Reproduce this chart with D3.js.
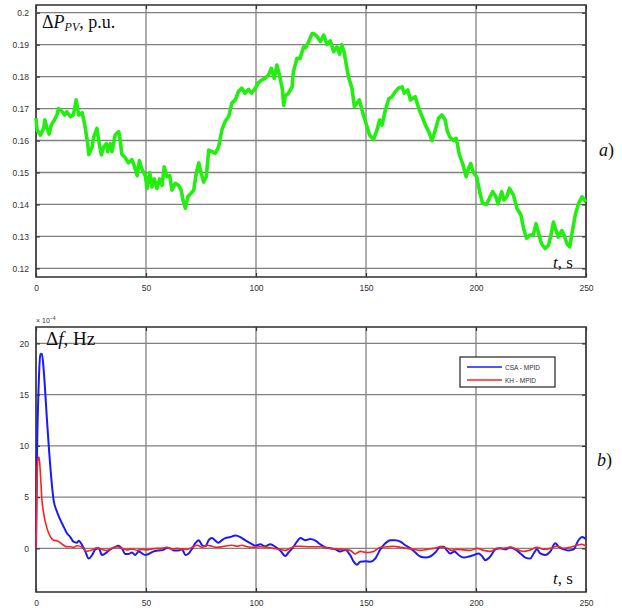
<!DOCTYPE html>
<html>
<head>
<meta charset="utf-8">
<script src="https://cdn.jsdelivr.net/npm/d3@7"></script>
<style>
  body { margin: 0; background: #fff; }
  svg { display: block; }
  .tick text { font-family: "Liberation Sans", Arial, sans-serif; font-size: 8.5px; fill: #333; }
  .lbl { font-family: "Liberation Serif", "Times New Roman", serif; fill: #111; }
</style>
</head>
<body>
<div id="chart"></div>
<script>
// (a) PV power deviation, p.u.
const pvTime = [0, 0.5, 2, 3.5, 4, 5, 6, 7, 8, 9.5, 10.3, 12, 13, 14, 15.6, 17, 18.3, 19.4, 21, 22.4, 23.5, 24,
  25.5, 26.2, 27.7, 28.5, 29.7, 30.8, 32, 32.6, 33.8, 34.5, 36, 37.6, 38.3, 39, 40.6, 42, 43.6, 44.7, 46, 47, 48,
  49.7, 50.5, 51.7, 52.7, 53.8, 55, 56.2, 57.3, 58.3, 59.5, 60.8, 61.8, 63.3, 64.8, 66, 66.8, 67.9, 69, 70.5,
  71.7, 72.9, 74, 75, 76.2, 77.4, 78.5, 80, 81.5, 83, 84.5, 86, 87.6, 89, 90.6, 92, 93.6, 95, 96.6, 98, 99.7,
  101, 102.7, 104, 105.7, 107, 108.3, 109.5, 110.8, 112, 112.6, 113.3, 114.8, 116.4, 117, 118.6, 120, 121.7,
  122.5, 124, 125.5, 126.3, 127.8, 129.3, 130.8, 132.3, 133.8, 135.3, 136.8, 138, 139, 140, 142, 143.6, 144.7,
  145.9, 147, 148.6, 150, 151.6, 153.4, 155, 156.2, 157.3, 158.8, 160.3, 161.8, 163.3, 164.8, 166.4, 167.4,
  169, 170.2, 172.4, 174, 175.5, 177, 178.5, 180, 181.5, 183, 184.5, 186, 187, 188.2, 189.7, 191, 192.4, 193.9,
  195.5, 196.5, 197.6, 198.8, 200.3, 201.8, 203, 204.8, 206.4, 207.6, 209, 210, 211.7, 212.7, 214, 215.2, 217,
  218.6, 220.4, 221.8, 223, 224.5, 226, 227.3, 228.3, 229.8, 231.4, 232.9, 233.9, 235.2, 236.4, 237.4, 239,
  240, 241.4, 242.6, 243.6, 245.2, 246.7, 248.2, 250];
const pvValue = [0.167, 0.1633, 0.1617, 0.1638, 0.1665, 0.164, 0.162, 0.165, 0.166, 0.168, 0.170, 0.169, 0.168,
  0.169, 0.1675, 0.168, 0.1727, 0.168, 0.1687, 0.164, 0.159, 0.1556, 0.158, 0.161, 0.1638, 0.160, 0.1555, 0.158,
  0.159, 0.1565, 0.159, 0.1565, 0.1617, 0.1628, 0.160, 0.1557, 0.1546, 0.153, 0.154, 0.152, 0.149, 0.1537,
  0.1513, 0.149, 0.145, 0.150, 0.1455, 0.148, 0.145, 0.148, 0.146, 0.1518, 0.1487, 0.149, 0.1445, 0.1466,
  0.146, 0.1445, 0.1414, 0.1388, 0.1424, 0.1435, 0.1445, 0.150, 0.153, 0.150, 0.147, 0.1487, 0.157, 0.1565,
  0.156, 0.158, 0.1633, 0.166, 0.1675, 0.1717, 0.1727, 0.1753, 0.1764, 0.1748, 0.176, 0.1748, 0.1764, 0.178,
  0.179, 0.1794, 0.1805, 0.1826, 0.1794, 0.1836, 0.180, 0.176, 0.171, 0.174, 0.1748, 0.1768, 0.1815, 0.1857,
  0.1857, 0.1893, 0.189, 0.191, 0.1935, 0.1935, 0.1925, 0.191, 0.193, 0.190, 0.1912, 0.1878, 0.1893, 0.187,
  0.190, 0.1878, 0.180, 0.1764, 0.1707, 0.1717, 0.1727, 0.1685, 0.1654, 0.1617, 0.1603, 0.1633, 0.1664,
  0.1648, 0.1695, 0.173, 0.1737, 0.1753, 0.1764, 0.1768, 0.1748, 0.1758, 0.1727, 0.1737, 0.170, 0.1675,
  0.1648, 0.1628, 0.160, 0.1633, 0.167, 0.168, 0.1664, 0.1628, 0.161, 0.160, 0.1607, 0.1557, 0.1528, 0.1487,
  0.151, 0.1528, 0.150, 0.1487, 0.1435, 0.1404, 0.140, 0.1424, 0.144, 0.1424, 0.1402, 0.144, 0.1414, 0.1424,
  0.145, 0.143, 0.1388, 0.1367, 0.132, 0.1294, 0.1304, 0.1304, 0.134, 0.1314, 0.1277, 0.1262, 0.1272, 0.1298,
  0.1345, 0.1318, 0.1298, 0.1318, 0.1304, 0.1277, 0.1267, 0.1308, 0.137, 0.1404, 0.1424, 0.1408];

// (b) frequency deviation, x1e-4 Hz
const csaTime = [0, 0.5, 1.2, 2, 2.7, 3.5, 5, 6.5, 8, 9.5, 11, 12.6, 14, 15.6, 17, 18.6, 19.4, 21, 22.4, 24,
  25.5, 27, 28.5, 30, 31.5, 33.8, 36, 37.6, 39, 40.6, 42, 43.6, 45, 46.7, 48.2, 49.7, 51.2, 53.5, 55.8, 58,
  59.5, 61, 62.6, 64.8, 66.4, 67.9, 69.4, 71, 72.4, 74, 75.5, 77, 78.5, 80, 81.5, 83, 84.5, 86, 88.3, 90.6,
  92.9, 95, 97.4, 99.7, 102, 104, 106.5, 108.8, 111, 113.3, 114.8, 117, 118.6, 120.2, 122.4, 124.7, 127,
  129.2, 131.5, 133.8, 136, 138.3, 140.6, 142.8, 144.4, 145.9, 147.4, 149.7, 152, 154.2, 156.5, 158.8, 161,
  163.3, 165.6, 167.9, 170.2, 172.4, 174.7, 177, 179.2, 181.5, 183.8, 185.3, 186.8, 188.3, 190.2, 192.1,
  194.4, 196.7, 199, 201.2, 202.7, 204.2, 206.5, 208.8, 211, 213.3, 215.6, 217.8, 220.2, 222.4, 224.7,
  226.2, 227.7, 229.2, 231.5, 233.8, 236, 237.6, 239.8, 242, 244.4, 246.2, 248.2, 250];
const csaValue = [0, 9.6, 15.8, 18.9, 19.0, 17.4, 12.5, 8.0, 4.7, 3.6, 2.8, 2.1, 1.5, 1.1, 0.65, 0.55, 0.75, 0.3,
  -0.3, -1.0, -0.65, -0.1, 0, -0.65, -0.5, -0.1, 0.15, 0.25, 0, -0.55, -0.55, -0.4, -0.65, -0.3, -0.5, -0.65,
  -0.55, -0.3, -0.2, -0.15, 0.05, 0, -0.2, -0.2, -0.1, -0.65, -0.5, 0, 0.5, 0.8, 0.3, 0.2, 0.8, 1.0, 0.75,
  0.55, 0.8, 1.0, 1.1, 1.25, 1.1, 0.8, 0.5, 0.25, 0.4, 0.2, 0.4, 0.15, -0.2, -0.75, -0.4, 0.15, 0.65, 1.0,
  0.8, 0.9, 0.75, 0.4, 0.1, 0, -0.1, -0.3, -0.15, -0.65, -1.3, -1.6, -1.3, -1.25, -1.3, -1.0, -0.1, 0.5, 0.8,
  0.8, 0.65, 0.3, 0, -0.4, -0.8, -0.9, -0.8, -0.4, 0.15, 0.15, -0.2, -0.5, -0.3, -0.65, -0.9, -0.8, -0.65,
  -0.5, -0.75, -1.15, -0.8, -0.1, 0, -0.1, 0.1, -0.1, -0.5, -0.9, -1.0, -0.5, -0.1, -0.5, -0.65, -0.3, 0.5,
  0.15, -0.1, -0.2, -0.1, 0.65, 1.1, 0.9];
const khTime = [0, 0.5, 0.9, 1.4, 2, 2.7, 3.5, 5, 6.5, 8, 9.5, 11, 12.6, 14, 15.6, 17, 18.6, 21, 23, 25.5, 27.7,
  30, 32.3, 34.5, 36.8, 39, 41.4, 43.6, 46, 48.2, 50.5, 52.7, 55, 57.3, 59.5, 61.8, 64, 66.4, 68.6, 71, 73.2,
  75.5, 77.7, 80, 82.3, 84.5, 86.8, 89, 91.4, 93.6, 96, 99, 102, 105, 108, 111, 113.3, 115.6, 117.9, 120.2,
  124.7, 129.2, 133.8, 138.3, 142.8, 145.1, 147.4, 150.4, 153.4, 156.5, 159.5, 162.5, 165.6, 168.6, 171.7,
  174.7, 177.7, 180.8, 183.8, 186.8, 189, 191.4, 194.4, 197.4, 200.5, 203.5, 206.5, 209.5, 212.6, 215.6,
  218.6, 221.7, 224.7, 227.7, 230.7, 233.8, 236.8, 239.8, 242.8, 245.8, 248.2, 250];
const khValue = [0, 7.3, 8.7, 8.9, 7.3, 4.7, 3.4, 1.95, 1.15, 0.8, 0.75, 0.55, 0.3, 0.15, 0.15, 0.1, 0.25, 0.1,
  -0.3, -0.15, 0.05, -0.1, -0.2, 0, 0.15, 0, -0.15, -0.05, -0.2, -0.1, -0.15, -0.05, 0, 0, 0.1, -0.1, 0, -0.1,
  -0.1, 0.1, 0.3, 0.1, 0.3, 0.2, 0.1, 0.15, 0.25, 0.3, 0.2, 0.3, 0.15, 0.1, 0.15, 0.1, 0, -0.1, -0.2, 0, 0.2,
  0.2, 0.15, 0.15, 0, -0.1, -0.2, -0.55, -0.3, -0.4, -0.3, 0.1, 0.15, 0.2, 0.1, 0, -0.1, -0.2, -0.1, 0, 0.15,
  0, -0.2, -0.1, -0.15, -0.2, 0, -0.2, -0.3, 0, 0, 0.1, -0.1, -0.3, -0.15, 0.1, -0.1, 0, 0.2, 0, 0.1, 0.3,
  0.4, 0.2];

const xTicks = [0, 50, 100, 150, 200, 250];
const pvTicks = [0.12, 0.13, 0.14, 0.15, 0.16, 0.17, 0.18, 0.19, 0.2];
const dfTicks = [0, 5, 10, 15, 20];
const legendNames = ["CSA - MPID", "KH - MPID"];
const legendColors = ["#1a1aff", "#ff2020"];

const width = 622, height = 608;
const svg = d3.select("#chart").append("svg")
    .attr("width", width)
    .attr("height", height);

const xScale = d3.scaleLinear().domain([0, 250]).range([36, 586]);

function drawPanel(top, bottom, yDomain, yTicks, yFormat) {
    const yScale = d3.scaleLinear().domain(yDomain).range([bottom, top]);
    const g = svg.append("g");

    // grid
    g.append("g").selectAll("line.hg").data(yTicks).join("line")
        .attr("x1", xScale.range()[0]).attr("x2", xScale.range()[1])
        .attr("y1", d => yScale(d)).attr("y2", d => yScale(d))
        .attr("stroke", "#808080").attr("stroke-width", 1.3);
    g.append("g").selectAll("line.vg").data(xTicks).join("line")
        .attr("x1", d => xScale(d)).attr("x2", d => xScale(d))
        .attr("y1", top).attr("y2", bottom)
        .attr("stroke", "#808080").attr("stroke-width", 1.3);

    // axes (MATLAB style, ticks inward)
    g.append("g")
        .attr("transform", `translate(0,${bottom})`)
        .call(d3.axisBottom(xScale).tickValues(xTicks).tickSize(-4).tickPadding(8).tickFormat(d3.format("d")));
    g.append("g")
        .attr("transform", `translate(${xScale.range()[0]},0)`)
        .call(d3.axisLeft(yScale).tickValues(yTicks).tickSize(-4).tickPadding(7).tickFormat(yFormat));
    g.append("g")
        .attr("transform", `translate(${xScale.range()[1]},0)`)
        .call(d3.axisRight(yScale).tickValues(yTicks).tickSize(-4).tickFormat(""));
    g.append("g")
        .attr("transform", `translate(0,${top})`)
        .call(d3.axisTop(xScale).tickValues(xTicks).tickSize(-4).tickFormat(""));
    g.selectAll(".domain").attr("stroke", "none");
    g.selectAll(".tick line").attr("stroke", "#333").attr("stroke-width", 1.2);

    // frame
    g.append("rect")
        .attr("x", xScale.range()[0]).attr("y", top)
        .attr("width", xScale.range()[1] - xScale.range()[0])
        .attr("height", bottom - top)
        .attr("fill", "none")
        .attr("stroke", "#3a3a3a")
        .attr("stroke-width", 1.6);
    return { g, yScale };
}

// ---- panel a
const pa = drawPanel(5, 277, [0.1173, 0.2024], pvTicks, d3.format("~g"));
const pvLine = d3.line().x(d => xScale(d[0])).y(d => pa.yScale(d[1]));
pa.g.append("path")
    .datum(pvTime.map((t, i) => [t, pvValue[i]]))
    .attr("fill", "none")
    .attr("stroke", "#22ee10")
    .attr("stroke-width", 3.6)
    .attr("stroke-linejoin", "round")
    .attr("d", pvLine);

const ta = pa.g.append("text").attr("class", "lbl").attr("x", 42).attr("y", 28).style("font-size", "18px");
ta.append("tspan").text("Δ");
ta.append("tspan").style("font-style", "italic").text("P");
ta.append("tspan").style("font-style", "italic").style("font-size", "12px").attr("dy", 3).text("PV");
ta.append("tspan").attr("dy", -3).text(", p.u.");

const tsa = pa.g.append("text").attr("class", "lbl").attr("x", 553).attr("y", 268).style("font-size", "17px");
tsa.append("tspan").style("font-style", "italic").text("t");
tsa.append("tspan").text(", s");

const la = svg.append("text").attr("class", "lbl").attr("x", 599).attr("y", 156).style("font-size", "18px");
la.append("tspan").style("font-style", "italic").text("a");
la.append("tspan").text(")");

// ---- panel b
const pb = drawPanel(327, 592, [-4.26, 21.6], dfTicks, d3.format("d"));
const dfLine = d3.line().curve(d3.curveMonotoneX).x(d => xScale(d[0])).y(d => pb.yScale(d[1]));
pb.g.append("path")
    .datum(csaTime.map((t, i) => [t, csaValue[i]]))
    .attr("fill", "none")
    .attr("stroke", legendColors[0])
    .attr("stroke-width", 2)
    .attr("stroke-linejoin", "round")
    .attr("d", dfLine);
pb.g.append("path")
    .datum(khTime.map((t, i) => [t, khValue[i]]))
    .attr("fill", "none")
    .attr("stroke", legendColors[1])
    .attr("stroke-width", 1.6)
    .attr("stroke-linejoin", "round")
    .attr("d", dfLine);

// exponent label
const ex = svg.append("text").attr("x", 36).attr("y", 323)
    .style("font-family", "Liberation Sans, Arial, sans-serif").style("font-size", "7px").attr("fill", "#333");
ex.append("tspan").text("× 10");
ex.append("tspan").attr("dy", -3).style("font-size", "5px").text("−4");

const tb = pb.g.append("text").attr("class", "lbl").attr("x", 46).attr("y", 345).style("font-size", "19px");
tb.append("tspan").text("Δ");
tb.append("tspan").style("font-style", "italic").text("f");
tb.append("tspan").text(", Hz");

const tsb = pb.g.append("text").attr("class", "lbl").attr("x", 553).attr("y", 584).style("font-size", "17px");
tsb.append("tspan").style("font-style", "italic").text("t");
tsb.append("tspan").text(", s");

const lb = svg.append("text").attr("class", "lbl").attr("x", 597).attr("y", 466).style("font-size", "18px");
lb.append("tspan").style("font-style", "italic").text("b");
lb.append("tspan").text(")");

// legend
const leg = svg.append("g").attr("transform", "translate(460,357)");
leg.append("rect").attr("width", 95).attr("height", 30)
    .attr("fill", "#fff").attr("stroke", "#333").attr("stroke-width", 1.3);
const items = leg.selectAll("g.item").data(legendNames).join("g")
    .attr("transform", (d, i) => `translate(0,${10 + i * 13})`);
items.append("line").attr("x1", 7).attr("x2", 42).attr("y1", 0).attr("y2", 0)
    .attr("stroke", (d, i) => legendColors[i]).attr("stroke-width", 1.6);
items.append("text").attr("x", 45).attr("y", 2.5)
    .style("font-family", "Liberation Sans, Arial, sans-serif").style("font-size", "6.5px")
    .attr("fill", "#333").text(d => d);
</script>
</body>
</html>
